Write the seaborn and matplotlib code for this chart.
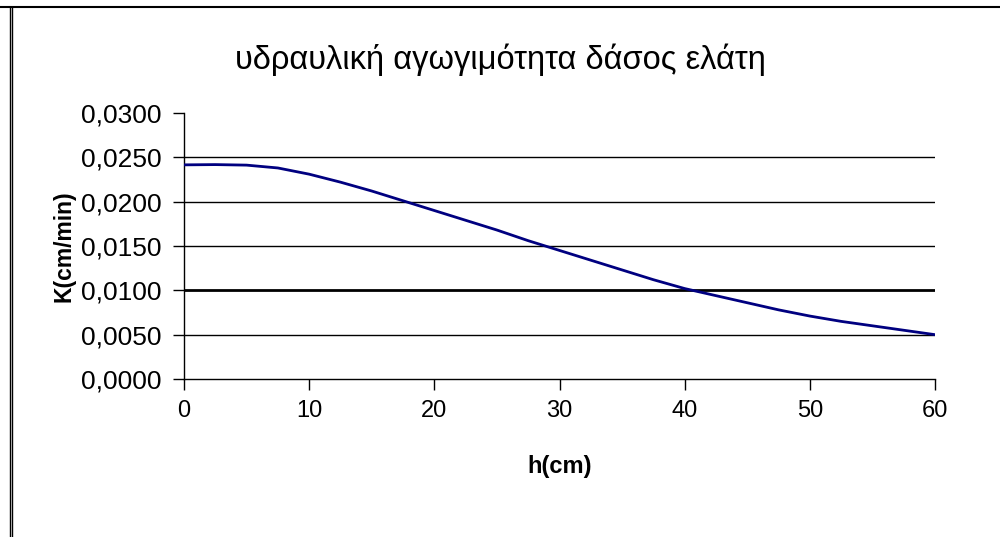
import numpy as np
import pandas as pd
import matplotlib
matplotlib.use("Agg")
import matplotlib.pyplot as plt
from matplotlib.lines import Line2D
from matplotlib.ticker import FuncFormatter
import seaborn as sns

# values
h_cm = [0, 2.5, 5, 7.5, 10, 12.5, 15, 17.5, 20, 22.5, 25, 27.5, 30,
        32.5, 35, 37.5, 40, 42.5, 45, 47.5, 50, 52.5, 55, 57.5, 60]
k_cm_min = [0.02415, 0.02418, 0.02412, 0.0238, 0.0231, 0.0222, 0.0212,
            0.0201, 0.0190, 0.0179, 0.0168, 0.0156, 0.0145, 0.0134,
            0.0123, 0.0112, 0.0102, 0.0094, 0.0086, 0.0078, 0.0071,
            0.0065, 0.0060, 0.0055, 0.0050]
x_ticks = [0, 10, 20, 30, 40, 50, 60]
y_ticks = [0.0, 0.005, 0.010, 0.015, 0.020, 0.025, 0.030]

title = "υδραυλική αγωγιμότητα δάσος ελάτη"
x_label = "h(cm)"
y_label = "K(cm/min)"

df = pd.DataFrame({"h": h_cm, "K": k_cm_min})

sns.set_style("white")
plt.rcParams['font.family'] = ['Liberation Sans', 'DejaVu Sans']
plt.rcParams['text.color'] = 'black'
plt.rcParams['axes.labelcolor'] = 'black'
plt.rcParams['xtick.color'] = 'black'
plt.rcParams['ytick.color'] = 'black'

fig = plt.figure(figsize=(10, 5.37), dpi=100)
ax = fig.add_axes([0.184, 0.2942, 0.751, 0.4954])

# horizontal gridlines (the 0,0100 one is heavier in the original)
for v in y_ticks[1:-1]:
    lw = 2.0 if abs(v - 0.010) < 1e-9 else 1.0
    ax.axhline(v, color="black", lw=lw, zorder=1)

sns.lineplot(data=df, x="h", y="K", ax=ax, color="#000080", lw=2, zorder=3)

ax.set_xlim(0, 60)
ax.set_ylim(0, 0.030)
ax.set_xticks(x_ticks)
ax.set_yticks(y_ticks)
ax.yaxis.set_major_formatter(FuncFormatter(lambda v, p: f"{v:.4f}".replace(".", ",")))

for s in ["top", "right"]:
    ax.spines[s].set_visible(False)
for s in ["left", "bottom"]:
    ax.spines[s].set_color("black")
    ax.spines[s].set_linewidth(1.0)

ax.tick_params(axis="y", direction="out", length=8, width=1, color="black",
               labelsize=19, pad=8, left=True, labelcolor="black")
ax.tick_params(axis="x", direction="out", length=8, width=1, color="black",
               labelsize=17, pad=7, bottom=True, labelcolor="black")

ax.set_xlabel(x_label, fontsize=17, fontweight="bold", labelpad=24)
ax.set_ylabel(y_label, fontsize=16.5, fontweight="bold", labelpad=4)
fig.text(0.5, 0.888, title, ha="center", va="center", fontsize=23.5)

# frame of the original chart: top line and double left line
fig.add_artist(Line2D([0, 1], [1 - 7 / 537, 1 - 7 / 537], color="black", lw=1.5))
fig.add_artist(Line2D([9.5 / 1000, 9.5 / 1000], [0, 1 - 7 / 537], color="black", lw=1))
fig.add_artist(Line2D([12 / 1000, 12 / 1000], [0, 1 - 7 / 537], color="black", lw=1))

fig.savefig("out.png", dpi=100)
